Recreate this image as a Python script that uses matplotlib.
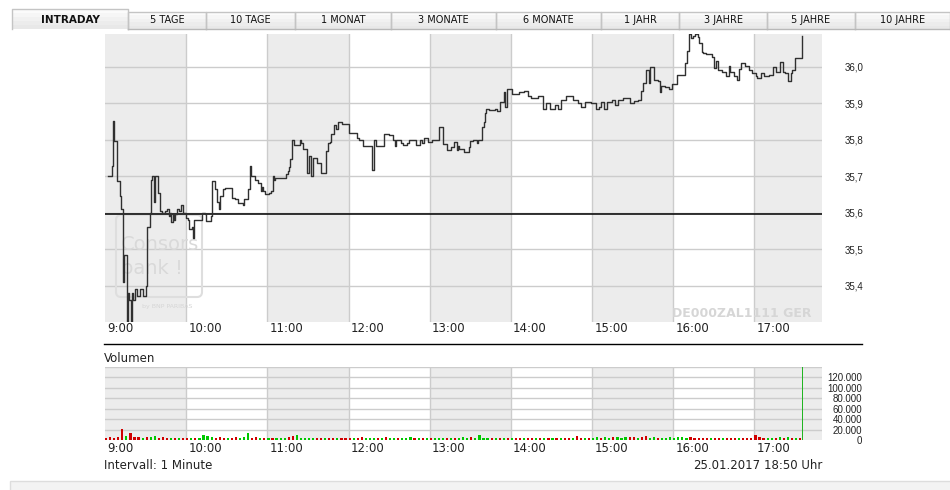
import matplotlib
matplotlib.use("Agg")
import matplotlib.pyplot as plt
from matplotlib.patches import Rectangle, FancyBboxPatch
from matplotlib.lines import Line2D
from matplotlib.transforms import Affine2D

# Intraday-Kurs, Minuten ab 9:00 und Preis in EUR
price_min = [2, 5, 6, 7, 9, 11, 12, 13, 14, 16, 17, 18, 19, 20, 21, 22, 24, 26, 28, 30,
             31, 33, 34, 35, 36, 37, 39, 41, 42, 44, 46, 47, 48, 49, 50, 51, 52, 53, 55, 56,
             58, 60, 61, 62, 64, 65, 66, 72, 74, 75, 78, 79, 81, 83, 84, 85, 87, 89, 94, 96,
             98, 102, 103, 106, 107, 108, 111, 113, 115, 116, 117, 118, 121, 123, 124, 125, 126,
             134, 135, 136, 137, 138, 140, 144, 145, 146, 149, 151, 152, 154, 157, 160, 163, 165,
             166, 167, 169, 171, 172, 175, 177, 180, 186, 188, 191, 197, 199, 200, 206, 210, 213,
             214, 215, 219, 220, 223, 225, 230, 233, 234, 236, 239, 242, 247, 250, 253, 256, 258,
             260, 261, 262, 265, 269, 270, 272, 275, 276, 279, 280, 281, 282, 284, 288, 290, 292,
             295, 296, 297, 301, 306, 310, 313, 315, 320, 324, 326, 329, 333, 335, 337, 341, 346,
             350, 352, 355, 359, 363, 365, 367, 369, 371, 375, 377, 379, 383, 388, 391,
             394, 396, 398, 400, 402, 403, 406, 409, 410, 411, 414, 417, 419, 423, 429, 430, 432,
             433, 435, 436, 438, 439, 441, 442, 444, 449, 450, 452, 453, 456, 459, 461, 462, 465,
             467, 469, 470, 473, 476, 478, 481, 482, 485, 487, 491, 494, 496, 499, 501, 503, 505,
             507, 508, 510, 515]
price_val = [35.70, 35.728, 35.85, 35.796, 35.687, 35.645, 35.61, 35.41, 35.483, 35.30, 35.38,
             35.36, 35.30, 35.38, 35.36, 35.39, 35.37, 35.39, 35.37, 35.40,
             35.56, 35.60, 35.69, 35.70, 35.63, 35.70, 35.655, 35.605, 35.60, 35.605, 35.61, 35.59,
             35.60, 35.575, 35.595, 35.58, 35.595, 35.61, 35.605, 35.62,
             35.60, 35.585, 35.58, 35.555, 35.56, 35.53, 35.58, 35.60, 35.595, 35.578, 35.59,
             35.687, 35.665, 35.63, 35.61, 35.646, 35.665, 35.668, 35.64, 35.637,
             35.626, 35.62, 35.637, 35.665, 35.728, 35.70, 35.69, 35.68, 35.66, 35.67, 35.66,
             35.65, 35.655, 35.66, 35.70, 35.69, 35.696,
             35.705, 35.715, 35.724, 35.746, 35.80, 35.785, 35.80, 35.79, 35.774, 35.71, 35.755,
             35.70, 35.75, 35.735, 35.71, 35.77, 35.79,
             35.795, 35.815, 35.84, 35.83, 35.848, 35.842, 35.844, 35.819, 35.805, 35.80, 35.783,
             35.716, 35.80, 35.783, 35.815, 35.812, 35.80,
             35.783, 35.80, 35.79, 35.786, 35.79, 35.80, 35.785, 35.80, 35.79, 35.806, 35.795,
             35.80, 35.836, 35.787, 35.772, 35.78, 35.795,
             35.772, 35.783, 35.774, 35.765, 35.78, 35.796, 35.80, 35.79, 35.80, 35.836, 35.848,
             35.874, 35.885, 35.882, 35.885, 35.88, 35.904,
             35.93, 35.89, 35.939, 35.926, 35.93, 35.933, 35.919, 35.915, 35.92, 35.885, 35.90,
             35.885, 35.895, 35.885, 35.908, 35.92, 35.91,
             35.90, 35.89, 35.904, 35.90, 35.885, 35.89, 35.903, 35.885, 35.904, 35.908, 35.895,
             35.908, 35.915, 35.90, 35.905,
             35.91, 35.933, 35.956, 35.992, 35.956, 35.999, 35.965, 35.962, 35.93, 35.948, 35.945,
             35.94, 35.954, 35.978, 36.01, 36.042, 36.09,
             36.078, 36.085, 36.09, 36.082, 36.065, 36.04, 36.037, 36.035, 36.028, 35.996, 36.015,
             35.99, 35.986, 35.974, 36.002, 35.986, 35.974,
             35.965, 35.993, 36.01, 36.003, 35.992, 35.984, 35.974, 35.968, 35.982, 35.974, 35.978,
             36.0, 35.986, 36.014, 35.986, 35.982, 35.96,
             35.982, 35.99, 36.024, 36.085]
prev_close = 35.595

# Volumen in Tausend Stueck, je 3-Minuten-Slot ab 9:00
vol_k = [4, 5, 3, 6, 22, 8, 14, 5, 6, 4, 6, 5, 7, 4, 5, 4, 3, 4, 3, 4,
         3, 3, 4, 3, 10, 7, 6, 4, 5, 3, 4, 3, 5, 3, 6, 13, 4, 5, 3, 3,
         3, 3, 4, 3, 4, 5, 8, 9, 4, 3, 4, 3, 3, 4, 3, 3, 4, 3, 3, 3,
         3, 4, 3, 5, 4, 3, 4, 3, 3, 6, 3, 4, 3, 3, 4, 5, 4, 3, 4, 3,
         3, 4, 3, 4, 3, 4, 4, 3, 5, 4, 5, 4, 9, 4, 3, 4, 3, 4, 3, 4,
         3, 4, 3, 4, 3, 4, 3, 4, 3, 4, 4, 3, 4, 3, 4, 4, 7, 3, 4, 3,
         4, 5, 4, 5, 4, 6, 5, 4, 6, 5, 6, 4, 5, 7, 4, 5, 4, 3, 4, 5,
         4, 5, 6, 4, 5, 4, 3, 4, 3, 4, 3, 4, 3, 4, 3, 4, 3, 4, 3, 4,
         10, 6, 4, 3, 4, 3, 5, 4, 5, 4, 4, 3]
vol_col = ("rrrrrgrrrgrggrrrgrgr"
           "rgrggggrrrgrrgggrrgr"
           "grgggrrgggggrrgrrgrr"
           "rgrrgggrgrggrgggrgrg"
           "rgggrgrgggrggggrgrgr"
           "grrgrrgrgrgrgrrgrrgr"
           "ggrggrgggrrgrrggrggg"
           "ggggrrrrrgrrgrrrgrrr"
           "rrrggrgrgrgr")
auction_min = 515
auction_k = 300

hours = ["9:00", "10:00", "11:00", "12:00", "13:00", "14:00", "15:00", "16:00", "17:00"]
price_ticks = [35.4, 35.5, 35.6, 35.7, 35.8, 35.9, 36.0]
vol_ticks = [0, 20, 40, 60, 80, 100, 120]
tabs = ["INTRADAY", "5 TAGE", "10 TAGE", "1 MONAT", "3 MONATE", "6 MONATE",
        "1 JAHR", "3 JAHRE", "5 JAHRE", "10 JAHRE"]
tab_edges = [12, 128, 206, 295, 391, 496, 601, 679, 767, 855, 950]

BAND = "#ececec"
GRID = "#cccccc"
RED = "#d00000"
GREEN = "#00c800"

fig = plt.figure(figsize=(9.5, 4.9), dpi=100)
fig.patch.set_facecolor("white")
# Pixel-Koordinaten von oben links
px = Affine2D().scale(1 / 950, -1 / 490).translate(0, 1) + fig.transFigure

# --- Tabs ---
shades = ["#fbfbfb", "#f6f6f6", "#f1f1f1", "#ececec", "#e8e8e8"]
for i, name in enumerate(tabs):
    x0, x1 = tab_edges[i], tab_edges[i + 1]
    top = 9 if i == 0 else 12
    h = (29 - top) / len(shades)
    for k, c in enumerate(shades):
        fig.add_artist(Rectangle((x0, top + k * h), x1 - x0, h + 0.5, transform=px,
                                 facecolor=c, edgecolor="none"))
    fig.add_artist(Line2D([x0, x0, x1, x1], [29, top, top, 29], transform=px,
                          color="#c4c4c4", lw=1))
    fig.text((x0 + x1) / 2, 20, name, transform=px, ha="center", va="center",
             fontsize=7.5 if i == 0 else 7, fontweight="bold" if i == 0 else "normal",
             color="#111111")
fig.add_artist(Line2D([128, 950], [29, 29], transform=px, color="#b8b8b8", lw=1))

# --- Kurs-Panel ---
ax = fig.add_axes([105 / 950, 1 - 322 / 490, 717 / 950, 288 / 490])
ax.set_xlim(0, 530)
ax.set_ylim(min(price_val), max(price_val))
for h in range(0, 540, 120):
    ax.axvspan(h, h + 60, color=BAND, lw=0, zorder=0)
for h in range(60, 530, 60):
    ax.axvline(h, color=GRID, lw=1, zorder=1)
for v in price_ticks:
    ax.axhline(v, color=GRID, lw=1, zorder=1)
ax.axhline(prev_close, color="black", lw=1.1, zorder=3)
ax.step(price_min, price_val, where="post", color="#303030", lw=1.0, zorder=4)
for s in ax.spines.values():
    s.set_visible(False)
ax.set_xticks([])
ax.yaxis.tick_right()
ax.set_yticks(price_ticks, [f"{v:.1f}".replace(".", ",") for v in price_ticks])
ax.tick_params(axis="y", length=0, pad=16, labelsize=7, labelcolor="#222222")
for t in ax.get_yticklabels():
    t.set_family("Liberation Sans")

# Wasserzeichen
ax.add_patch(FancyBboxPatch((116, 215), 86, 82, boxstyle="round,pad=0,rounding_size=5",
                            transform=px, facecolor="none", edgecolor="#dedede",
                            lw=1.5, zorder=2, clip_on=False))
ax.text(121, 244, "Consors", transform=px, fontsize=14, color="#d9d9d9",
        va="center", zorder=2, clip_on=False)
ax.text(121, 268, "bank !", transform=px, fontsize=14, color="#d9d9d9",
        va="center", zorder=2, clip_on=False)
ax.text(142, 306, "by BNP PARIBAS", transform=px, fontsize=4.5, color="#d6d6d6",
        va="center", zorder=2, clip_on=False)
ax.text(812, 313, "DE000ZAL1111 GER", transform=px, fontsize=9, fontweight="bold",
        color="#d6d6d6", ha="right", va="center", zorder=2)

for i, lab in enumerate(hours):
    fig.text(107 + i * 81.2, 328, lab, transform=px, fontsize=8.5, va="center",
             color="#222222")

fig.add_artist(Line2D([104, 862], [344, 344], transform=px, color="black", lw=1))
fig.text(104, 358, "Volumen", transform=px, fontsize=8.5, va="center", color="#222222")

# --- Volumen-Panel ---
vx = fig.add_axes([105 / 950, 1 - 440 / 490, 717 / 950, 73 / 490])
vx.set_xlim(0, 530)
vx.set_ylim(0, 140)
for h in range(0, 540, 120):
    vx.axvspan(h, h + 60, color=BAND, lw=0, zorder=0)
for h in range(60, 530, 60):
    vx.axvline(h, color=GRID, lw=1, zorder=1)
for v in range(20, 141, 20):
    vx.axhline(v, color=GRID, lw=1, zorder=1)
slots = range(0, 3 * len(vol_k), 3)
vx.bar(slots, vol_k, width=1.6, align="edge",
       color=[RED if c == "r" else GREEN for c in vol_col], lw=0, zorder=3,
       antialiased=False)
vx.bar([auction_min], [auction_k], width=0.9, align="edge", color="#22b522", lw=0,
       zorder=3, antialiased=False)
for s in vx.spines.values():
    s.set_visible(False)
vx.set_xticks([])
vx.yaxis.tick_right()
vx.set_yticks(vol_ticks, ["0" if v == 0 else f"{v}.000" for v in vol_ticks])
vx.tick_params(axis="y", length=0, pad=29, labelsize=7, labelcolor="#222222")
for t in vx.get_yticklabels():
    t.set_family("Liberation Sans")
    t.set_ha("right")

for i, lab in enumerate(hours):
    fig.text(107 + i * 81.2, 448, lab, transform=px, fontsize=8.5, va="center",
             color="#222222")

fig.text(104, 465, "Intervall: 1 Minute", transform=px, fontsize=8.5, va="center",
         color="#222222")
fig.text(693, 465, "25.01.2017", transform=px, fontsize=8.5, va="center", color="#222222")
fig.text(822, 465, "18:50 Uhr", transform=px, fontsize=8.5, va="center", ha="right",
         color="#222222")

fig.add_artist(Rectangle((10, 481), 945, 12, transform=px, facecolor="#f3f3f3",
                         edgecolor="#dddddd", lw=1))

fig.savefig("out.png", dpi=100)
